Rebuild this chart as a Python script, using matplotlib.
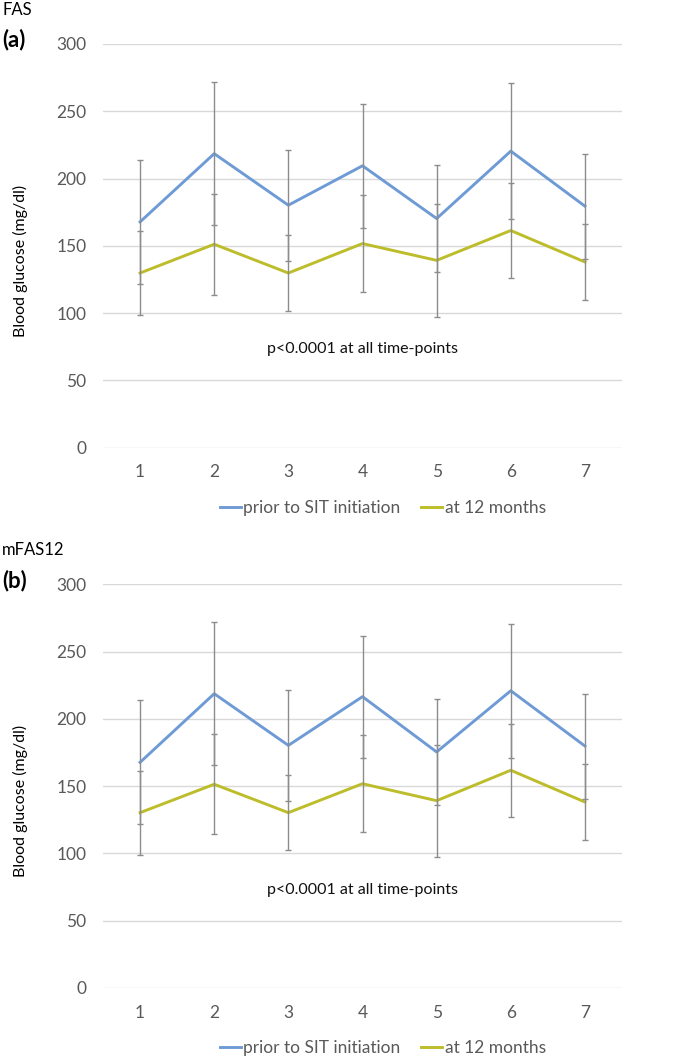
import numpy as np
import matplotlib.pyplot as plt

# ------------------------------------------------------------------------------
# DATOS
# ------------------------------------------------------------------------------
time_points = [1, 2, 3, 4, 5, 6, 7]

# (a) FAS
fas_prior = [167.8, 218.5, 180.2, 209.5, 170.3, 220.4, 179.5]
fas_prior_err = [45.8, 53.2, 41.2, 46.0, 40.0, 50.5, 39.0]
fas_12m = [129.8, 151.2, 129.8, 151.7, 139.2, 161.4, 138.0]
fas_12m_err = [31.2, 37.4, 28.3, 36.2, 41.8, 35.0, 28.2]

# (b) mFAS12
mfas_prior = [167.7, 218.7, 180.3, 216.5, 175.4, 220.9, 179.8]
mfas_prior_err = [46.1, 53.1, 41.5, 45.4, 39.2, 49.8, 39.0]
mfas_12m = [130.3, 151.4, 130.3, 151.8, 139.2, 161.8, 138.2]
mfas_12m_err = [31.2, 37.3, 28.0, 36.0, 41.6, 34.6, 28.0]

y_ticks = [0, 50, 100, 150, 200, 250, 300]
series_labels = ["prior to SIT initiation", "at 12 months"]
p_text = "p<0.0001 at all time-points"

blue = "#6e9bd6"
olive = "#bdbd2b"
grey_txt = "#595959"

plt.rcParams['font.family'] = ['Lato', 'DejaVu Sans']

fig = plt.figure(figsize=(6.85, 10.59), dpi=100)
W, H = 685, 1059


def draw_panel(top_px, bottom_px, prior, prior_err, m12, m12_err, name, tag, ylab_px, leg_px):
    ax = fig.add_axes([103 / W, 1 - bottom_px / H, (622 - 103) / W, (bottom_px - top_px) / H])
    ax.plot(time_points, prior, color=blue, lw=2.1, label=series_labels[0], zorder=3)
    ax.plot(time_points, m12, color=olive, lw=2.1, label=series_labels[1], zorder=3)
    ax.errorbar(time_points, prior, yerr=prior_err, fmt='none', ecolor='#8c8c8c',
                elinewidth=1, capsize=2.5, capthick=1, zorder=4)
    ax.errorbar(time_points, m12, yerr=m12_err, fmt='none', ecolor='#8c8c8c',
                elinewidth=1, capsize=2.5, capthick=1, zorder=4)
    ax.set_xlim(0.5, 7.5)
    ax.set_ylim(0, 300)
    ax.set_yticks(y_ticks)
    ax.set_xticks(time_points)
    ax.grid(axis='y', color='#d9d9d9', lw=1)
    ax.set_axisbelow(True)
    for s in ax.spines.values():
        s.set_visible(False)
    ax.tick_params(length=0, labelsize=12.5, labelcolor=grey_txt)
    ax.tick_params(axis='y', pad=12)
    ax.tick_params(axis='x', pad=12)
    ax.text(4, 73, p_text, ha='center', va='center', fontsize=11.5, color='#111111')

    fig.text(2 / W, 1 - (top_px - 34) / H, name, fontsize=12, va='center', ha='left')
    fig.text(2 / W, 1 - (top_px - 4) / H, tag, fontsize=16, fontweight='bold', va='center', ha='left')
    fig.text(20 / W, 1 - ylab_px / H, "Blood glucose (mg/dl)", rotation=90,
             fontsize=11.5, va='center', ha='center')
    fig.legend(*ax.get_legend_handles_labels(), loc='center', ncol=2,
               bbox_to_anchor=(383 / W, 1 - leg_px / H), frameon=False,
               fontsize=12.5, handlelength=1.2, handletextpad=0.15,
               columnspacing=1.2, labelcolor=grey_txt)
    return ax


draw_panel(44, 447.7, fas_prior, fas_prior_err, fas_12m, fas_12m_err, "FAS", "(a)", 261, 508)
draw_panel(584.3, 988, mfas_prior, mfas_prior_err, mfas_12m, mfas_12m_err, "mFAS12", "(b)", 801, 1048)

fig.savefig("out.png", dpi=100)
